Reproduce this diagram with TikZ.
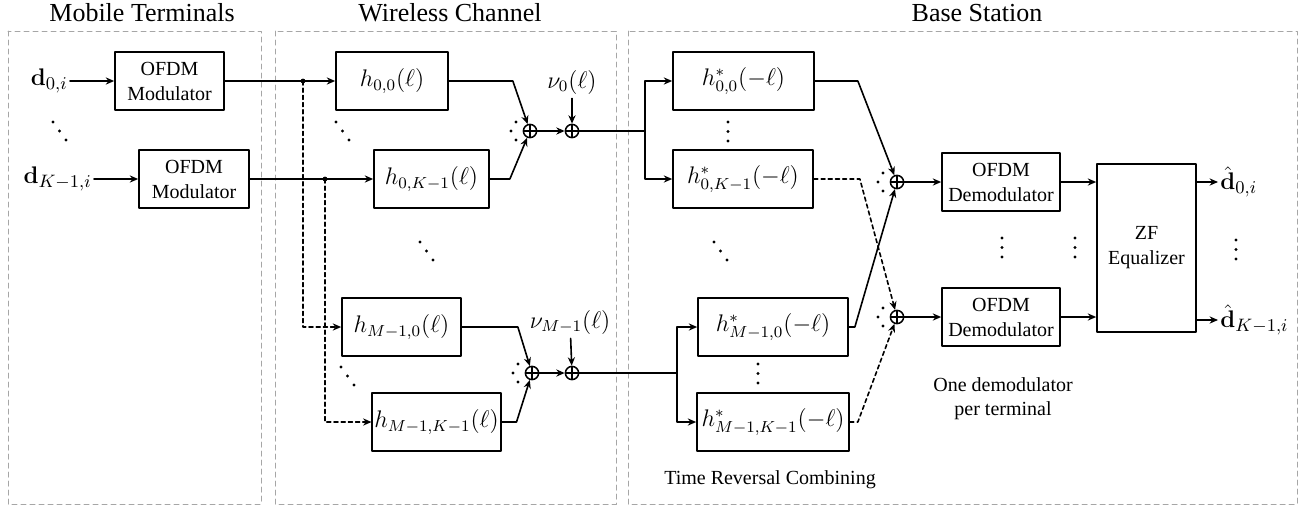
\documentclass[tikz,border=0pt]{standalone}
\usepackage[no-math]{fontspec}
\setmainfont{Liberation Serif}
\usetikzlibrary{arrows.meta,calc}

\begin{document}
\begin{tikzpicture}[x=0.5pt, y=-0.5pt, >={Stealth[length=4.2pt,width=3.6pt]},
  line cap=round, line join=round,
  blk/.style={draw, line width=0.85pt, minimum height=29pt, inner sep=1pt,
    align=center, font=\fontsize{10}{12.5}\selectfont},
  mblk/.style={blk, font=\fontsize{11.8}{13}\selectfont},
  sumnode/.style={draw, circle, line width=0.75pt, minimum size=6.6pt, inner sep=0pt,
    path picture={\draw[line width=0.65pt]
      (path picture bounding box.north) -- (path picture bounding box.south)
      (path picture bounding box.west) -- (path picture bounding box.east);}},
  frame/.style={draw=gray!70, line width=0.5pt, dash pattern=on 2.5pt off 2pt},
  sig/.style={line width=0.8pt},
  sigd/.style={sig, dash pattern=on 2pt off 1.6pt},
  title/.style={font=\fontsize{13}{15}\selectfont},
  lbl/.style={font=\fontsize{13}{15}\selectfont, inner sep=1pt},
  nlbl/.style={font=\fontsize{11.5}{13}\selectfont, inner sep=2pt},
  note/.style={font=\fontsize{10}{12}\selectfont, align=center}]

\useasboundingbox (0,0) rectangle (1304,509);

% ----------------------------
% FRAMES
% ----------------------------
\draw[frame] (8,31) rectangle (261,504);
\draw[frame] (275,31) rectangle (616,504);
\draw[frame] (628,31) rectangle (1297,504);

\node[title] (tMT) at (142,13) {Mobile Terminals};
\node[title] (tWC) at (450,13) {Wireless Channel};
\node[title] (tBS) at (977,13) {Base Station};

% ----------------------------
% MOBILE TERMINALS
% ----------------------------
\node[blk, minimum width=54.5pt] (mod0) at (169.5,81) {OFDM\\Modulator};
\node[blk, minimum width=55pt] (modK) at (194,179) {OFDM\\Modulator};

\node[lbl, anchor=east] (d0) at (70,81) {$\mathbf{d}_{0,i}$};
\node[lbl, anchor=east] (dK) at (94,179) {$\mathbf{d}_{K-1,i}$};

\draw[sig,->] (d0) -- (mod0);
\draw[sig,->] (dK) -- (modK);

% ----------------------------
% WIRELESS CHANNEL
% ----------------------------
\node[mblk, minimum width=56pt] (h00) at (392,81) {$h_{0,0}(\ell)$};
\node[mblk, minimum width=57.5pt] (h0K) at (431.5,179) {$h_{0,K-1}(\ell)$};
\node[mblk, minimum width=59.5pt] (hM0) at (401.5,327) {$h_{M-1,0}(\ell)$};
\node[mblk, minimum width=63.5pt] (hMK) at (436.5,422) {$h_{M-1,K-1}(\ell)$};

% branch points
\coordinate (b0) at (303,81);
\coordinate (bK) at (325,179);

\draw[sig] (mod0) -- (b0);
\draw[sig,->] (b0) -- (h00);
\draw[sig] (modK) -- (bK);
\draw[sig,->] (bK) -- (h0K);
\draw[sigd,->] (b0) |- (hM0);
\draw[sigd,->] (bK) |- (hMK);
\fill (b0) circle (1.2pt);
\fill (bK) circle (1.2pt);

% adders and noise
\node[sumnode] (s0a) at (530,131) {};
\node[sumnode] (s0b) at (572,131) {};
\node[sumnode] (sMa) at (532,373) {};
\node[sumnode] (sMb) at (572,373) {};

\node[nlbl] (nu0) at (572,82) {$\nu_0(\ell)$};
\node[nlbl] (nuM) at (570,322) {$\nu_{M-1}(\ell)$};

\draw[sig,->] (h00.east) -- ++(64,0) -- (s0a);
\draw[sig,->] (h0K.east) -- ++(20,0) -- (s0a);
\draw[sig,->] (s0a) -- (s0b);
\draw[sig,->] (nu0) -- (s0b);

\draw[sig,->] (hM0.east) -- ++(56,0) -- (sMa);
\draw[sig,->] (hMK.east) -- ++(15,0) -- (sMa);
\draw[sig,->] (sMa) -- (sMb);
\draw[sig,->] (nuM) -- (sMb);

% ----------------------------
% BASE STATION
% ----------------------------
\node[mblk, minimum width=70.5pt] (c00) at (743.5,81) {$h^*_{0,0}(-\ell)$};
\node[mblk, minimum width=70pt] (c0K) at (743,179) {$h^*_{0,K-1}(-\ell)$};
\node[mblk, minimum width=75pt] (cM0) at (773,327) {$h^*_{M-1,0}(-\ell)$};
\node[mblk, minimum width=76pt] (cMK) at (773,422) {$h^*_{M-1,K-1}(-\ell)$};

\coordinate (r0) at (645,131);
\coordinate (rM) at (677,373);

\draw[sig] (s0b) -- (r0);
\draw[sig,->] (r0) |- (c00);
\draw[sig,->] (r0) |- (c0K);
\draw[sig] (sMb) -- (rM);
\draw[sig,->] (rM) |- (cM0);
\draw[sig,->] (rM) |- (cMK);

% combining
\node[sumnode] (sA) at (897,182) {};
\node[sumnode] (sB) at (897,317) {};

\draw[sig,->] (c00.east) -- ++(43,0) -- (sA);
\draw[sig,->] (cM0.east) -- ++(6,0) -- (sA);
\draw[sigd,->] (c0K.east) -- ++(46,0) -- (sB);
\draw[sigd,->] (cMK.east) -- ++(8,0) -- (sB);

\node[blk, minimum width=59pt] (dem0) at (1001,182) {OFDM\\Demodulator};
\node[blk, minimum width=59pt] (demK) at (1001,317) {OFDM\\Demodulator};
\node[blk, minimum width=49.5pt, minimum height=84pt] (zf) at (1146.5,248) {ZF\\Equalizer};

\draw[sig,->] (sA) -- (dem0);
\draw[sig,->] (sB) -- (demK);
\draw[sig,->] (dem0) -- (dem0 -| zf.west);
\draw[sig,->] (demK) -- (demK -| zf.west);

\node[lbl, anchor=west] (o0) at (1218,182) {$\hat{\mathbf{d}}_{0,i}$};
\node[lbl, anchor=west] (oK) at (1218,320) {$\hat{\mathbf{d}}_{K-1,i}$};
\draw[sig,->] (zf.east |- o0) -- (o0);
\draw[sig,->] (zf.east |- oK) -- (oK);

\node[note] (trc) at (770,480) {Time Reversal Combining};
\node[note] (odt) at (1003,399) {One demodulator\\per terminal};

% ----------------------------
% DOTS
% ----------------------------
% diagonal
\foreach \x/\y in {53/122, 336/122, 420/242, 341/367, 714/242}
  \foreach \k in {0,1,2}
    \fill (\x+6.5*\k, \y+9*\k) circle (0.8pt);
% vertical
\foreach \x/\y in {728/122, 758/364, 1002/238, 1075/238, 1236/240}
  \foreach \k in {0,1,2}
    \fill (\x, \y+9.5*\k) circle (0.8pt);
% beside the adders
\foreach \s in {s0a, sMa, sA, sB}
  \foreach \dx/\dy in {-14/-9, -19/0, -14/9}
    \fill ($(\s)+(\dx,\dy)$) circle (0.8pt);

\end{tikzpicture}
\end{document}
